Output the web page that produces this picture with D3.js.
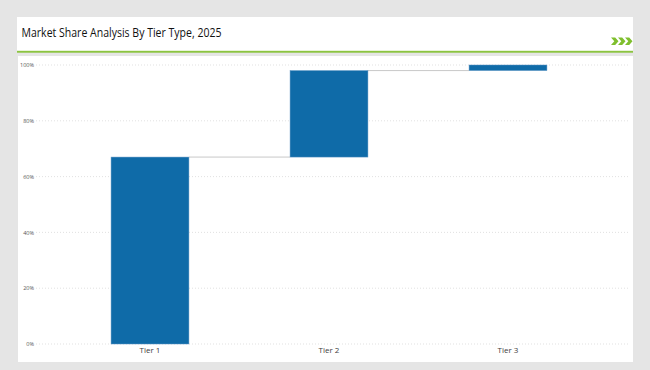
<!DOCTYPE html>
<html><head><meta charset="utf-8">
<script src="https://cdn.jsdelivr.net/npm/d3@7"></script>
<style>
html,body{margin:0;padding:0;background:#e5e5e5;}
svg{display:block;}
</style></head>
<body>
<script>
const categories = ["Tier 1", "Tier 2", "Tier 3"];
const values = [67, 31, 2];
const tickValues = [0, 20, 40, 60, 80, 100];
const title = "Market Share Analysis By Tier Type, 2025";

const W = 650, H = 370;
const svg = d3.select("body").append("svg").attr("width", W).attr("height", H);
svg.append("rect").attr("width", W).attr("height", H).attr("fill", "#e5e5e5");

// header panel
svg.append("rect").attr("x", 17).attr("y", 17).attr("width", 616).attr("height", 34).attr("fill", "#fff");
svg.append("rect").attr("x", 17).attr("y", 50.8).attr("width", 616).attr("height", 1.9).attr("fill", "#8bc43f");
svg.append("text").attr("x", 21.5).attr("y", 37.3).text(title)
  .attr("font-family", "'Open Sans', sans-serif").attr("font-size", 11.8).attr("fill", "#111")
  .attr("textLength", 200).attr("lengthAdjust", "spacingAndGlyphs");
// chevrons
const chev = svg.append("g").attr("fill", "#7fbf2e");
[0, 7, 14].forEach(dx => {
  chev.append("path").attr("d", `M${611+dx},37.5 l4.2,0 l3.3,3.7 l-3.3,3.7 l-4.2,0 l3.3,-3.7 z`);
});

// chart panel
svg.append("rect").attr("x", 18).attr("y", 56).attr("width", 615).attr("height", 306).attr("fill", "#fff");

const x = d3.scaleBand().domain(categories).range([60.5, 597.5]).paddingInner(0.565).paddingOuter(0.2825);
const y = d3.scaleLinear().domain([0, 100]).range([344, 65]);

// gridlines
svg.append("g").selectAll("line").data(tickValues).join("line")
  .attr("x1", 36).attr("x2", 630)
  .attr("y1", d => y(d)).attr("y2", d => y(d))
  .attr("stroke", "#d9d9d9").attr("stroke-width", 0.8).attr("stroke-dasharray", "1,2");

// y axis labels
const yAxis = d3.axisLeft(y).tickValues(tickValues).tickFormat(d => d + "%").tickSize(0).tickPadding(0);
const ya = svg.append("g").attr("transform", "translate(34,0)").call(yAxis);
ya.select(".domain").remove();
ya.selectAll("text").attr("font-family", "'Open Sans', sans-serif").attr("font-size", 5.5).attr("fill", "#555");

// waterfall
let cum = 0;
const data = categories.map((c, i) => { const d = {c, start: cum, end: cum + values[i]}; cum += values[i]; return d; });

// connectors
svg.append("g").selectAll("line").data(data.slice(0, -1)).join("line")
  .attr("x1", d => x(d.c) + x.bandwidth())
  .attr("x2", (d, i) => x(data[i + 1].c))
  .attr("y1", d => y(d.end)).attr("y2", d => y(d.end))
  .attr("stroke", "#c8c8c8").attr("stroke-width", 1);

svg.append("g").selectAll("rect").data(data).join("rect")
  .attr("x", d => x(d.c)).attr("width", x.bandwidth())
  .attr("y", d => y(d.end)).attr("height", d => y(d.start) - y(d.end))
  .attr("fill", "#0f6ba8").attr("stroke", "#5d95c4").attr("stroke-width", 0.5);

// x axis
const xAxis = d3.axisBottom(x).tickSize(0).tickPadding(0);
const xa = svg.append("g").attr("transform", "translate(0,347)").call(xAxis);
xa.select(".domain").remove();
xa.selectAll("text").attr("font-family", "'Open Sans', sans-serif").attr("font-size", 8).attr("fill", "#404040");
</script>
</body></html>
